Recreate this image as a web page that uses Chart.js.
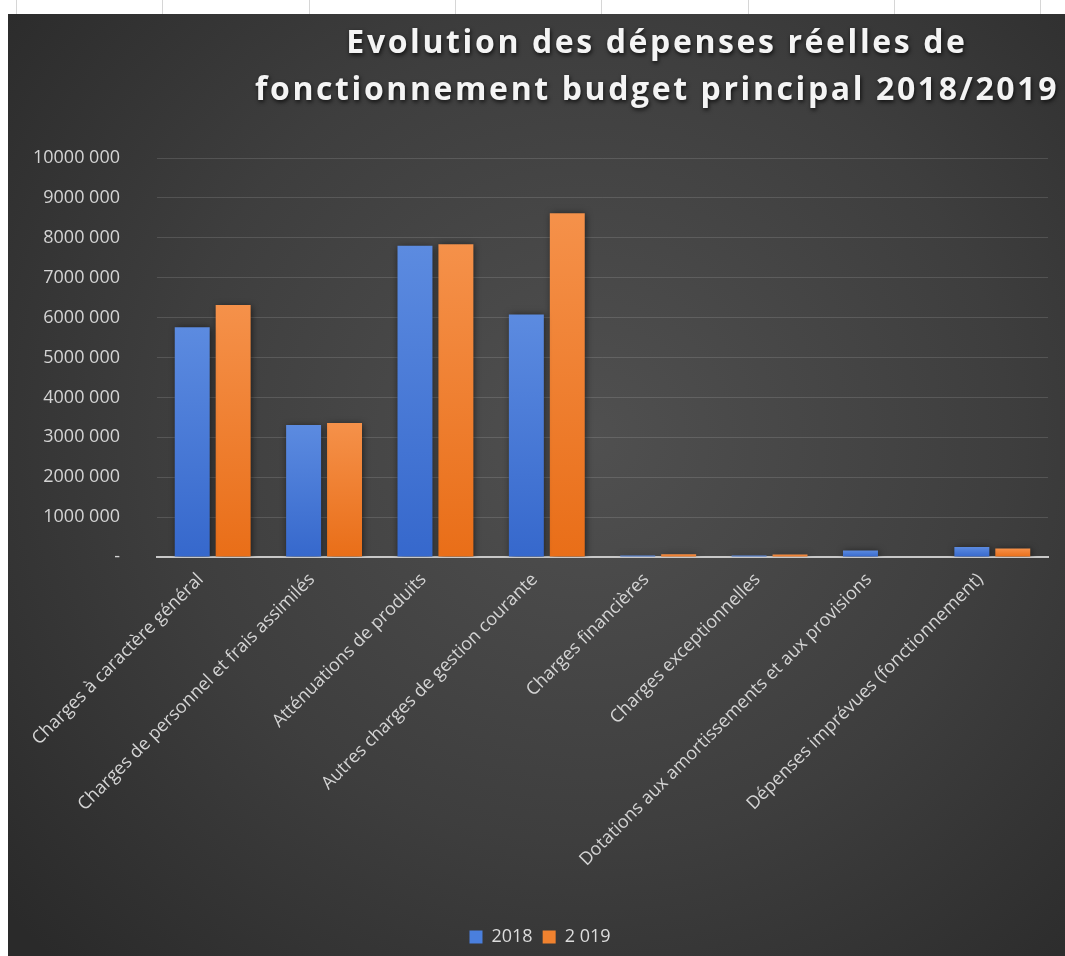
<!DOCTYPE html>
<html>
<head>
<meta charset="utf-8">
<script src="https://cdn.jsdelivr.net/npm/chart.js@4.4.1/dist/chart.umd.min.js"></script>
<style>
  html, body { margin: 0; padding: 0; background: #fff; overflow: hidden; }
  .sheet {
    position: absolute; left: 0; top: 0; width: 1065px; height: 14px;
    background: repeating-linear-gradient(to right, transparent 0 16px, #d6d6d6 16px 17px, transparent 17px 146.3px);
  }
  .frame {
    position: absolute; left: 8px; top: 14px; width: 1057px; height: 942px;
    background: radial-gradient(ellipse 72% 78% at 55% 45%, #505050 0%, #3e3e3e 55%, #2a2a2a 100%);
  }
</style>
</head>
<body>
<div class="sheet"></div>
<div class="frame"><canvas id="chart" width="1057" height="942"></canvas></div>
<script>
const categories = [
  'Charges à caractère général',
  'Charges de personnel et frais assimilés',
  'Atténuations de produits',
  'Autres charges de gestion courante',
  'Charges financières',
  'Charges exceptionnelles',
  'Dotations aux amortissements et aux provisions',
  'Dépenses imprévues (fonctionnement)',
];
const seriesNames = ['2018', '2 019'];
const values2018 = [5760000, 3310000, 7800000, 6080000, 40000, 40000, 165000, 250000];
const values2019 = [6320000, 3360000, 7840000, 8620000, 70000, 60000, 0, 215000];
const titleLines = ['Evolution des dépenses réelles de', 'fonctionnement budget principal 2018/2019'];

// bars are lighter at the top, like the Office style
function barGradient(top, bottom, fallback) {
  return (context) => {
    const chart = context.chart;
    const y = chart.scales.y;
    if (!chart.chartArea || !y || context.raw == null) return fallback;
    const y0 = y.getPixelForValue(0);
    const y1 = y.getPixelForValue(context.raw);
    if (Math.abs(y0 - y1) < 1) return fallback;
    const g = chart.ctx.createLinearGradient(0, y1, 0, y0);
    g.addColorStop(0, top);
    g.addColorStop(1, bottom);
    return g;
  };
}

const decorations = {
  id: 'decorations',
  afterLayout(chart) {
    // the title sits right of centre in the original
    const t = chart.titleBlock;
    t.left += 117;
    t.right += 117;
    if (!t._shadowed) {
      const draw = t.draw.bind(t);
      t.draw = function () {
        const c = chart.ctx;
        c.save();
        c.shadowColor = 'rgba(0,0,0,0.75)';
        c.shadowBlur = 4;
        c.shadowOffsetX = 1;
        c.shadowOffsetY = 2;
        c.letterSpacing = '2.6px';
        draw();
        c.restore();
      };
      t._shadowed = true;
    }
  },
  beforeDatasetsDraw(chart) {
    const c = chart.ctx;
    c.save();
    c.shadowColor = 'rgba(0,0,0,0.6)';
    c.shadowBlur = 7;
    c.shadowOffsetX = 1;
    c.shadowOffsetY = 1;
  },
  afterDatasetsDraw(chart) {
    chart.ctx.restore();
  },
};

Chart.defaults.font.family = "'Open Sans', sans-serif";
Chart.defaults.color = '#d4d4d4';

new Chart(document.getElementById('chart'), {
  type: 'bar',
  data: {
    labels: categories,
    datasets: [
      {
        label: seriesNames[0],
        data: values2018,
        backgroundColor: barGradient('#5c8be0', '#3668cc', '#4a7bd9'),
        categoryPercentage: 0.735,
        barPercentage: 0.854,
      },
      {
        label: seriesNames[1],
        data: values2019,
        backgroundColor: barGradient('#f5914a', '#e96e18', '#f0822f'),
        categoryPercentage: 0.735,
        barPercentage: 0.854,
      },
    ],
  },
  options: {
    responsive: false,
    animation: false,
    layout: { padding: { left: 24, right: 17, top: 0, bottom: 0 } },
    scales: {
      x: {
        grid: { display: false, drawTicks: false },
        border: { display: true, color: '#c8c8c8', width: 2 },
        ticks: {
          minRotation: 45,
          maxRotation: 45,
          padding: 12,
          labelOffset: -12,
          color: '#d4d4d4',
          font: { size: 18 },
        },
        afterFit(scale) {
          scale.height = 361;
          scale.paddingLeft = 0;
          scale.paddingRight = 0;
        },
      },
      y: {
        min: 0,
        max: 10000000,
        grid: { color: 'rgba(255,255,255,0.13)', lineWidth: 1, drawTicks: false },
        border: { display: false },
        ticks: {
          stepSize: 1000000,
          padding: 37,
          color: '#d4d4d4',
          font: { size: 18 },
          callback: (v) => (v === 0 ? '-' : (v / 1000) + ' 000'),
        },
        afterFit(scale) {
          scale.width = 125;
        },
      },
    },
    plugins: {
      title: {
        display: true,
        text: titleLines,
        color: '#f4f4f4',
        font: { size: 32, weight: 'bold', lineHeight: 1.47 },
        padding: { top: 6, bottom: 44 },
      },
      legend: {
        position: 'bottom',
        labels: {
          boxWidth: 13,
          boxHeight: 13,
          padding: 10,
          color: '#dcdcdc',
          font: { size: 18 },
          generateLabels: (chart) => chart.data.datasets.map((ds, i) => ({
            text: ds.label,
            fillStyle: ['#4a7fdd', '#f0822f'][i],
            strokeStyle: 'transparent',
            lineWidth: 0,
            fontColor: '#dcdcdc',
            datasetIndex: i,
          })),
        },
      },
      tooltip: { enabled: false },
    },
  },
  plugins: [decorations],
});
</script>
</body>
</html>
